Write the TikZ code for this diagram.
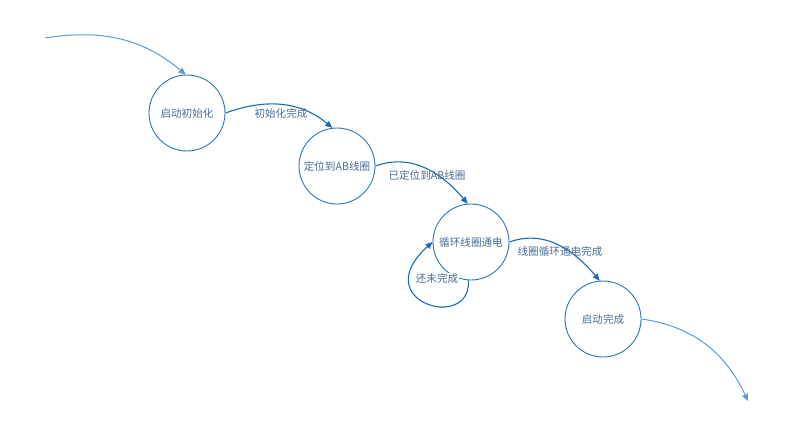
\documentclass[tikz,border=0pt]{standalone}
\usepackage{fontspec}
\setmainfont{Noto Sans CJK SC}
\usetikzlibrary{arrows.meta}
\definecolor{circ}{HTML}{2E75B6}
\definecolor{edge}{HTML}{1B6AB8}
\definecolor{light}{HTML}{5B9BD5}
\definecolor{txt}{HTML}{4A6B92}
\tikzset{
  state/.style={circle, draw=circ, line width=0.9pt, minimum size=76pt, inner sep=0pt, text=txt, font=\fontsize{10.6}{12}\selectfont},
  trans/.style={draw=edge, line width=1.1pt, -{Triangle[length=7pt,width=6pt]}},
  outer/.style={draw=light, line width=1pt, -{Triangle[length=7pt,width=6pt]}},
  lbl/.style={text=txt, font=\fontsize{10.6}{12}\selectfont, inner sep=1pt},
}
\begin{document}
\begin{tikzpicture}[x=1pt,y=-1pt]
\useasboundingbox (0,0) rectangle (787,440);
\node[state] (s1) at (187,113) {启动初始化};
\node[state] (s2) at (337,166) {定位到AB线圈};
\node[state] (s3) at (471,242) {循环线圈通电};
\node[state] (s4) at (603,319) {启动完成};
\coordinate (start) at (45,38);
\coordinate (end) at (748,401);
\draw[outer] (start) to[out=9,in=140] (s1.92);
\draw[outer] (s4.east) to[out=-8,in=115] (end);
\draw[trans] (s1.east) to[out=20,in=140] (s2.97);
\draw[trans] (s2.east) to[out=20,in=130] (s3.95);
\draw[trans] (s3.east) to[out=20,in=130] (s4.95);
\draw[trans] (s3.-94) .. controls (472,332) and (366,302) .. (s3.west);
\node[lbl] (l1) at (281,113) {初始化完成};
\node[lbl] (l2) at (427,175) {已定位到AB线圈};
\node[lbl] (l3) at (560,251) {线圈循环通电完成};
\node[lbl, fill=white, inner sep=0.5pt] (l4) at (437,278) {还未完成};
\end{tikzpicture}
\end{document}
